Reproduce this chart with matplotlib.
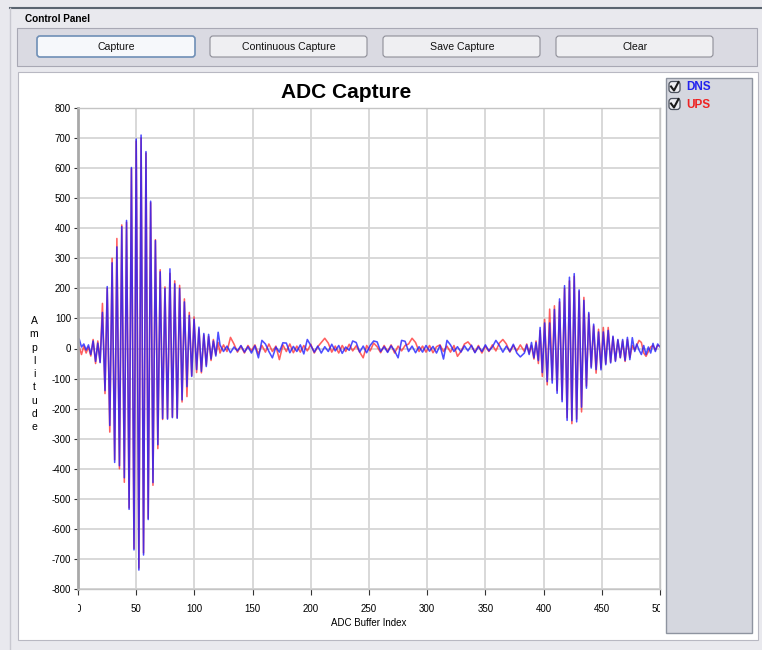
import numpy as np
import matplotlib
matplotlib.use('Agg')
import matplotlib.pyplot as plt
from matplotlib.patches import Rectangle, FancyBboxPatch
from matplotlib.lines import Line2D
from matplotlib.transforms import Affine2D, Bbox, TransformedBbox

plt.rcParams['font.family'] = ['Liberation Sans', 'DejaVu Sans']
plt.rcParams['axes.unicode_minus'] = False

W, H = 762, 650

# ADC samples (buffer index, amplitude)
start_idx = [0, 1, 3, 5, 7, 9, 11]
start_dns = [10, 32, 5, 15, -5, 12, -20]
start_ups = [-10, 5, -20, 8, -15, 5, -25]

# first burst, peaks and troughs
left_idx = [13.0, 15.1, 17.0, 19.0, 21.0, 23.2, 25.1, 27.3, 29.3, 31.5,
            33.4, 35.6, 37.6, 39.8, 41.7, 43.9, 45.9, 48.1, 50.0, 52.3,
            54.2, 56.3, 58.4, 60.3, 62.4, 64.4, 66.5, 68.6, 70.6, 72.7,
            74.7, 76.9, 79.0, 81.1, 83.1, 85.2, 87.3, 89.4, 91.4, 93.6,
            95.6, 97.7, 99.7, 101.9, 103.9, 106.0, 108.1, 110.2, 112.2, 114.3,
            116.3, 118.4, 120.4]
left_dns = [25, -43, 18, -47, 120, -140, 206, -256, 285, -379,
            338, -390, 405, -430, 426, -535, 602, -670, 697, -737,
            710, -687, 655, -569, 490, -446, 359, -320, 255, -233,
            200, -235, 265, -230, 215, -232, 200, -171, 155, -127,
            110, -93, 97, -70, 71, -76, 50, -60, 47, -35,
            25, -25, 54]
left_ups = [30, -50, 25, -45, 150, -150, 200, -278, 300, -370,
            366, -400, 411, -445, 420, -530, 598, -665, 690, -730,
            700, -680, 650, -565, 485, -455, 362, -333, 262, -236,
            205, -232, 250, -228, 225, -230, 210, -178, 165, -160,
            120, -90, 105, -80, 65, -81, 45, -55, 40, -40,
            30, -20, 20]

# quiet stretch between bursts
mid_idx = [122, 125, 128, 131, 134, 137, 140, 143, 146, 149,
           152, 155, 158, 161, 164, 167, 170, 173, 176, 179,
           182, 185, 188, 191, 194, 197, 200, 203, 206, 209,
           212, 215, 218, 221, 224, 227, 230, 233, 236, 239,
           242, 245, 248, 251, 254, 257, 260, 263, 266, 269,
           272, 275, 278, 281, 284, 287, 290, 293, 296, 299,
           302, 305, 308, 311, 314, 317, 320, 323, 326, 329,
           332, 335, 338, 341, 344, 347, 350, 353, 356, 359,
           362, 365, 368, 371, 374, 377, 380]
mid_dns = [12, -10, 8, -14, 5, -8, 10, -12, 6, -15,
           9, -31, 27, 15, -10, -31, 5, -12, 19, 18,
           -14, 7, -10, 12, -18, 30, 10, -12, 8, -15,
           6, -10, 14, -8, 10, -16, 5, -6, 25, 20,
           -12, 8, -14, 10, 25, 22, -10, 6, -13, 9,
           -8, -31, 27, 24, -10, 8, -14, 6, -12, 10,
           -9, 7, -15, 10, -35, 27, 12, -10, 6, -12,
           9, -8, 11, -14, 6, -10, 12, -8, 5, 27,
           10, -12, 8, -10, 14, -15, -28]
mid_ups = [-15, 12, -10, 37, 15, -12, 8, -15, 10, -8,
           12, -18, 10, -12, 15, -10, 8, -37, 12, -10,
           15, -14, 8, -12, 10, -8, 14, -15, 6, 20,
           34, 18, -12, 8, -15, 10, -10, 14, -8, 9,
           -12, -31, 10, -8, 18, 6, -14, 10, -10, 12,
           -15, 8, -8, 10, 15, 34, 20, -10, 8, -12,
           10, -14, 6, 12, -10, 8, -12, 10, -26, -10,
           15, 22, 8, -12, 10, -15, 8, -10, 12, -8,
           18, 30, 15, -12, 10, -8, 12]

# second (echo) burst
right_idx = [383.5, 385.5, 387.6, 389.6, 391.7, 393.5, 395.5, 397.0, 398.9, 400.9,
             403.1, 405.2, 407.4, 409.3, 411.6, 413.7, 415.9, 418.0, 420.2, 422.2,
             424.3, 426.3, 428.4, 430.5, 432.6, 434.6, 436.8, 438.8, 440.9, 443.0,
             445.1, 447.2, 449.3, 451.3, 453.4, 455.5, 457.6, 459.6, 461.7, 463.8,
             465.9, 467.9, 470.0, 472.0, 474.1, 476.2, 478.3]
right_dns = [-15, 12, -20, 20, -31, 20, -40, 70, -80, 85,
             -110, 85, -115, 130, -149, 165, -177, 209, -239, 237,
             -240, 249, -244, 195, -195, 160, -132, 120, -65, 81,
             -70, 55, -71, 55, -54, 60, -48, 41, -43, 30,
             -31, 30, -40, 37, -37, 36, -10]
right_ups = [-10, 15, -15, 10, -35, 25, -50, 60, -93, 97,
             -121, 131, -105, 142, -140, 155, -170, 200, -230, 225,
             -250, 240, -235, 190, -211, 170, -125, 115, -60, 75,
             -82, 64, -65, 70, -50, 70, -45, 38, -40, 28,
             -30, 25, -43, 30, -30, 10, -5]

tail_idx = [480, 482, 484, 486, 488, 490, 492, 494, 496, 498, 500]
tail_dns = [15, -5, -20, 10, -20, 5, -15, 17, -10, 15, 5]
tail_ups = [10, 27, 20, -15, -26, -10, 5, 10, -5, 10, 8]

idx = np.array(start_idx + left_idx + mid_idx + right_idx + tail_idx)
dns = np.array(start_dns + left_dns + mid_dns + right_dns + tail_dns)
ups = np.array(start_ups + left_ups + mid_ups + right_ups + tail_ups)

buttons = ['Capture', 'Continuous Capture', 'Save Capture', 'Clear']
button_x = [37, 210, 383, 556]

fig = plt.figure(figsize=(W / 100, H / 100), dpi=100)
fig.patch.set_facecolor('#e9e9ee')

# pixel coords, origin top-left
px = Affine2D().scale(1 / W, -1 / H).translate(0, 1) + fig.transFigure


def rect(x0, y0, x1, y1, fc, ec, lw=1.0, z=-5, rounded=False):
    if rounded:
        p = FancyBboxPatch((x0, y0), x1 - x0, y1 - y0,
                           boxstyle='round,pad=0,rounding_size=3',
                           fc=fc, ec=ec, lw=lw, transform=px, zorder=z)
    else:
        p = Rectangle((x0, y0), x1 - x0, y1 - y0, fc=fc, ec=ec, lw=lw,
                      transform=px, zorder=z)
    fig.add_artist(p)


# window frame
fig.add_artist(Line2D([10, W], [8, 8], color='#5a6470', lw=1.5, transform=px))
fig.add_artist(Line2D([10, 10], [8, H], color='#c8c8d0', lw=1.0, transform=px))
fig.text(25, 19, 'Control Panel', transform=px, fontsize=7.2,
         fontweight='bold', va='center', ha='left')

# control panel with buttons
rect(17, 28, 757, 66, '#dadae2', '#a8a8b4', lw=0.8)
for name, bx in zip(buttons, button_x):
    if name == 'Capture':
        rect(bx, 36, bx + 158, 57, '#f6f8fb', '#6f8fb6', lw=1.2, z=-4, rounded=True)
    else:
        rect(bx, 36, bx + 157, 57, '#efeff2', '#8e8e98', lw=0.8, z=-4, rounded=True)
    fig.text(bx + 79, 46.5, name, transform=px, fontsize=7.6,
             ha='center', va='center', color='#111111')

# chart panel and legend panel
rect(18, 72, 758, 640, 'white', '#b8b8c2', lw=0.8)
rect(666, 78, 752, 633, '#d5d7df', '#8e94a0', lw=1.0, z=-4)

legend_names = ['DNS', 'UPS']
legend_colors = ['#2222ee', '#ee2222']
for i, (nm, col) in enumerate(zip(legend_names, legend_colors)):
    cy = 87 + i * 17
    rect(669, cy - 5.5, 680, cy + 5.5, '#eeeef2', '#4a505c', lw=0.9, z=-3,
         rounded=True)
    fig.add_artist(Line2D([671, 674, 678.5], [cy - 0.5, cy + 3.5, cy - 5],
                          color='#1a1a1a', lw=1.5, transform=px))
    fig.text(686, cy + 0.5, nm, transform=px, fontsize=8.5, fontweight='bold',
             color=col, ha='left', va='center')

# plot
ax = fig.add_axes([78 / W, 1 - 589 / H, 582 / W, 481 / H])
ax.plot(idx, ups, color='#ff2a2a', lw=1.15, alpha=0.75)
ax.plot(idx, dns, color='#1c1cff', lw=1.15, alpha=0.78)

ax.set_xlim(0, 500)
ax.set_ylim(-800, 800)
ax.set_xticks(np.arange(0, 501, 50))
ax.set_yticks(np.arange(-800, 801, 100))
ax.grid(True, color='#d6d6d6', lw=1.3)
ax.set_axisbelow(True)
for s in ['top', 'right', 'bottom']:
    ax.spines[s].set_color('#c4c4c4')
    ax.spines[s].set_linewidth(1.0)
ax.spines['left'].set_color('#a8a8a8')
ax.spines['left'].set_linewidth(2.0)
ax.tick_params(axis='y', direction='out', length=3, width=0.8, color='#333333',
               labelsize=7, pad=2)
ax.tick_params(axis='x', direction='out', length=4, width=0.8, color='#333333',
               labelsize=7, pad=7)

clip = TransformedBbox(Bbox([[78, 0], [660, H]]),
                       Affine2D().scale(1 / W, 1 / H) + fig.transFigure)
for lbl in ax.get_xticklabels():
    lbl.set_clip_box(clip)
    lbl.set_clip_on(True)

fig.text(369, 623, 'ADC Buffer Index', transform=px, fontsize=7,
         ha='center', va='center')
fig.text(346, 92, 'ADC Capture', transform=px, fontsize=15,
         fontweight='bold', ha='center', va='center')

for i, ch in enumerate('Amplitude'):
    fig.text(34, 321 + i * 13.3, ch, transform=px, fontsize=7.5,
             ha='center', va='center')

fig.savefig('out.png', dpi=100, facecolor=fig.get_facecolor())
